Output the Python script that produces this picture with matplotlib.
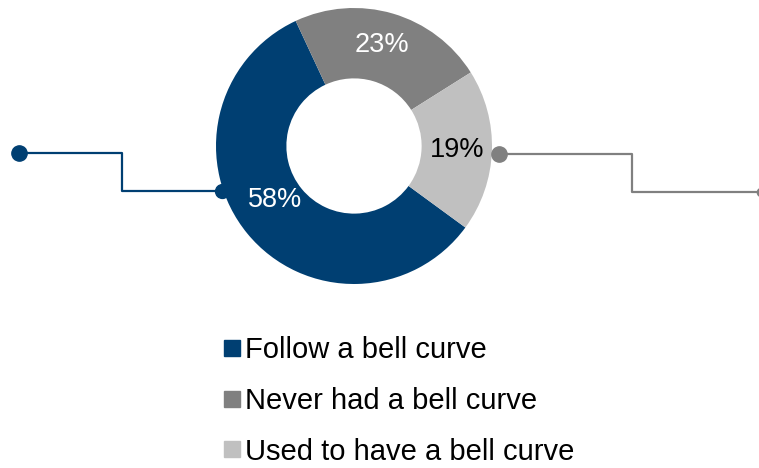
import matplotlib
matplotlib.use("Agg")
import matplotlib.pyplot as plt
from matplotlib.lines import Line2D

categories = ["Follow a bell curve", "Never had a bell curve", "Used to have a bell curve"]
values = [58, 23, 19]
labels = ["58%", "23%", "19%"]
colors = ["#003f72", "#808080", "#c0c0c0"]
label_colors = ["white", "white", "black"]

plt.rcParams["font.family"] = ["Liberation Sans", "DejaVu Sans"]

W, H = 759, 468
fig = plt.figure(figsize=(W / 100, H / 100), dpi=100)
ax = fig.add_axes([0, 0, 1, 1])

cx, cy, R = 354, H - 146, 138
width = 0.51
wedges, _ = ax.pie(values, colors=colors, startangle=-36.2, counterclock=False,
                   center=(cx, cy), radius=R, frame=True,
                   wedgeprops=dict(width=R * width, linewidth=0))

# percentage labels
label_pos = [(275, 200), (382, 45), (457, 150)]
for (lx, ly), t, c in zip(label_pos, labels, label_colors):
    ax.text(lx, H - ly, t, color=c, fontsize=19.5, ha="center", va="center")

# connectors
lw = 1.6
ax.plot([19, 122, 122, 222], [H - 153, H - 153, H - 191, H - 191], color=colors[0], lw=lw, zorder=3)
ax.plot([19], [H - 153], "o", color=colors[0], ms=11, zorder=4)
ax.plot([222], [H - 191], "o", color=colors[0], ms=10, zorder=4)
ax.plot([499, 632, 632, 762], [H - 154, H - 154, H - 192, H - 192], color=colors[1], lw=lw, zorder=3)
ax.plot([499], [H - 154], "o", color=colors[1], ms=11, zorder=4)
ax.plot([761], [H - 192], "o", color=colors[1], ms=6, zorder=4, clip_on=True)

ax.set_xlim(0, W)
ax.set_ylim(0, H)
ax.set_aspect("equal")
ax.axis("off")

handles = [Line2D([], [], marker="s", ls="none", color=c, ms=11) for c in colors]
leg = ax.legend(handles, categories, loc="upper left", bbox_to_anchor=(225 / W, 1 - 336 / H),
                frameon=False, fontsize=21, handlelength=0.5, handletextpad=0.2,
                labelspacing=0.78, borderpad=0, borderaxespad=0)

fig.savefig("out.png", dpi=100)
